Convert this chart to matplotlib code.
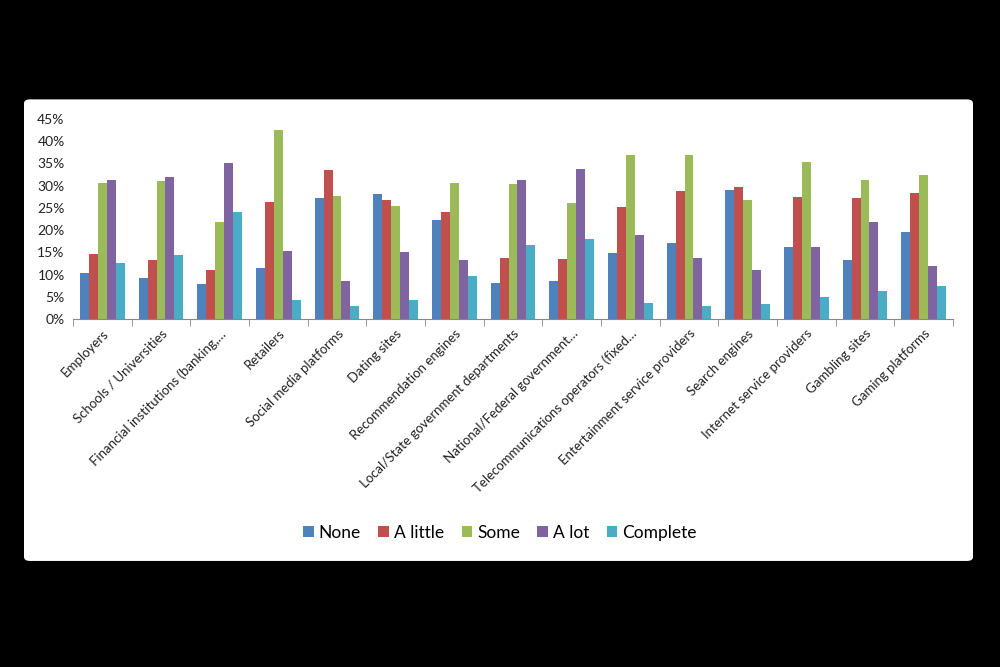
import numpy as np
import matplotlib.pyplot as plt
from matplotlib.patches import FancyBboxPatch
from matplotlib.ticker import PercentFormatter

# ==============================
# DATA (in %)
# ==============================
categories = [
    "Employers", "Schools / Universities", "Financial institutions (banking,…",
    "Retailers", "Social media platforms", "Dating sites", "Recommendation engines",
    "Local/State government departments", "National/Federal government…",
    "Telecommunications operators (fixed…", "Entertainment service providers",
    "Search engines", "Internet service providers", "Gambling sites", "Gaming platforms",
]
none_vals     = [10.4, 9.2, 7.8, 11.4, 27.2, 28.1, 22.3, 8.0, 8.6, 14.9, 17.2, 29.0, 16.1, 13.2, 19.5]
little_vals   = [14.7, 13.2, 11.1, 26.3, 33.6, 26.8, 24.1, 13.8, 13.5, 25.2, 28.9, 29.6, 27.4, 27.2, 28.4]
some_vals     = [30.6, 31.1, 21.9, 42.6, 27.6, 25.4, 30.7, 30.3, 26.2, 37.0, 37.0, 26.8, 35.4, 31.3, 32.3]
alot_vals     = [31.2, 32.0, 35.0, 15.4, 8.6, 15.1, 13.2, 31.3, 33.8, 19.0, 13.8, 11.1, 16.1, 21.9, 12.0]
complete_vals = [12.6, 14.3, 24.1, 4.2, 3.0, 4.3, 9.6, 16.6, 18.0, 3.7, 3.0, 3.4, 4.9, 6.2, 7.4]

series_names = ["None", "A little", "Some", "A lot", "Complete"]
series_vals = [none_vals, little_vals, some_vals, alot_vals, complete_vals]
colors = ["#4F81BD", "#C0504D", "#9BBB59", "#8064A2", "#4BACC6"]

plt.rcParams['font.family'] = ['Lato', 'DejaVu Sans']

# ==============================
# FIGURE + WHITE PANEL
# ==============================
fig = plt.figure(figsize=(10, 6.67), dpi=100, facecolor="black")
panel = FancyBboxPatch((0.024, 0.159), 0.949, 0.692,
                       boxstyle="round,pad=0,rounding_size=0.006",
                       transform=fig.transFigure, facecolor="white",
                       edgecolor="none", zorder=-1)
fig.add_artist(panel)

ax = fig.add_axes([0.073, 0.5217, 0.88, 0.2999], zorder=1)
ax.set_facecolor("white")

x = np.arange(len(categories))
bw = 0.153
for i, (name, vals, c) in enumerate(zip(series_names, series_vals, colors)):
    ax.bar(x + (i - 2) * bw, np.array(vals) / 100, width=bw, color=c, label=name)

ax.set_xlim(-0.5, len(categories) - 0.5)
ax.set_ylim(0, 0.45)
ax.set_yticks(np.arange(0, 0.46, 0.05))
ax.yaxis.set_major_formatter(PercentFormatter(1.0, decimals=0))
ax.tick_params(axis="y", length=0, labelsize=10, colors="#222222", pad=6)

# category labels, boundary tick marks
ax.set_xticks(x)
ax.set_xticklabels(categories, rotation=45, ha="right", rotation_mode="anchor",
                   fontsize=9.5, color="#222222")
ax.tick_params(axis="x", length=0, pad=6)
ax.set_xticks(np.arange(-0.5, len(categories), 1), minor=True)
ax.tick_params(axis="x", which="minor", length=5, color="#888888", direction="out")

for s in ["top", "right", "left"]:
    ax.spines[s].set_visible(False)
ax.spines["bottom"].set_color("#888888")

fig.legend(loc="center", bbox_to_anchor=(0.5, 0.201), ncol=5, frameon=False,
           fontsize=12.5, handlelength=0.6, handleheight=0.6, handletextpad=0.3,
           columnspacing=1.0)

fig.savefig("out.png", dpi=100, facecolor=fig.get_facecolor())
